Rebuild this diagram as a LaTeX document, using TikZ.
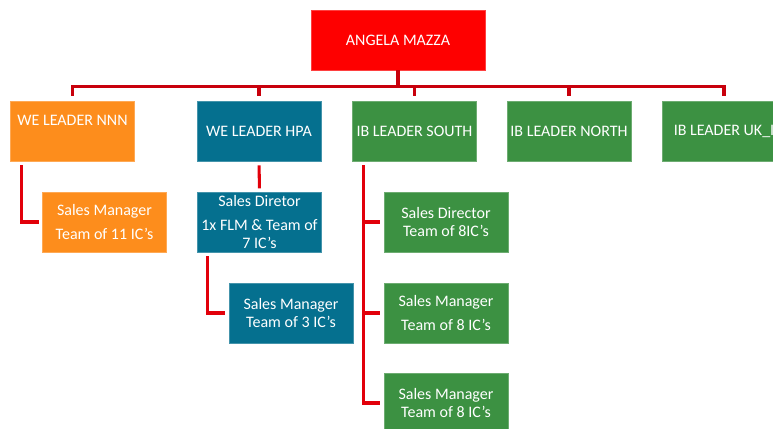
\documentclass[tikz,border=0pt]{standalone}
\usepackage{fontspec}
\setmainfont{Carlito}
\usepackage{tikz}
\usetikzlibrary{calc}
\definecolor{bossred}{HTML}{FE0000}
\definecolor{weorange}{HTML}{FD8D1C}
\definecolor{hpateal}{HTML}{05708F}
\definecolor{ibgreen}{HTML}{3C9142}
\definecolor{busred}{HTML}{C8000C}
\definecolor{linkred}{HTML}{E2000A}
\tikzset{
    box/.style args={#1}{fill=#1, draw=#1!75!white, line width=0.5pt, text=white, inner sep=0pt,
        minimum width=93pt, minimum height=45pt, align=center, font=\fontsize{12}{13.5}\selectfont},
    bus/.style={draw=busred, line width=2.3pt, shorten >=3.5pt},
    link/.style={draw=linkred, line width=2.3pt, shorten <=3pt, shorten >=2.5pt}
}

\begin{document}
\begin{tikzpicture}[x=0.75pt, y=-0.75pt]
\useasboundingbox (0,0) rectangle (773,428);
\clip (0,0) rectangle (773,428);
\node[box=bossred, minimum width=130.5pt] (root) at (398,40) {ANGELA MAZZA};
\node[box=weorange, text height=18pt, text depth=27pt] (nnn) at (72.5,131) {WE LEADER NNN};
\node[box=hpateal] (hpa) at (259,131) {WE LEADER HPA};
\node[box=ibgreen] (south) at (414.5,131) {IB LEADER SOUTH};
\node[box=ibgreen] (north) at (569,131) {IB LEADER NORTH};
\node[box=ibgreen] (uk) at (724,131) {IB LEADER UK\_I};
\node[box=weorange] (nnnsm) at (104.5,222) {Sales Manager\\[4.5pt]Team of 11 IC’s};
\node[box=hpateal] (hpadir) at (259.5,222) {Sales Diretor\\[4.5pt]1x FLM \& Team of\\7 IC’s};
\node[box=hpateal] (hpasm) at (291,313) {Sales Manager\\Team of 3 IC’s};
\node[box=ibgreen] (sdir) at (446,222) {Sales Director\\Team of 8IC’s};
\node[box=ibgreen] (ssm1) at (446,313) {Sales Manager\\[4.5pt]Team of 8 IC’s};
\node[box=ibgreen] (ssm2) at (446,403) {Sales Manager\\Team of 8 IC’s};

\foreach \n in {nnn,hpa,south,north,uk}
    \draw[bus] (root.south) -- ++(0,16) -| (\n.north);

\draw[link] ($(nnn.south west)+(11,0)$) |- (nnnsm.west);
\draw[link] (hpa.south) -- (hpadir.north);
\draw[link] ($(hpadir.south west)+(10,0)$) |- (hpasm.west);
\foreach \n in {sdir,ssm1,ssm2}
    \draw[link] ($(south.south west)+(11,0)$) |- (\n.west);
\end{tikzpicture}
\end{document}
